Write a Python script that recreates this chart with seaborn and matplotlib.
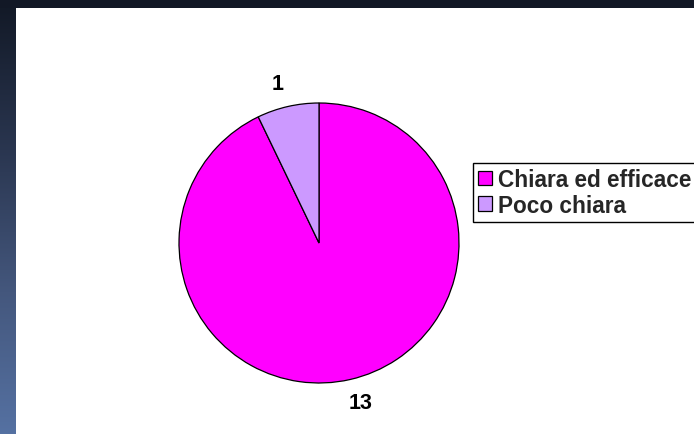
import numpy as np
import matplotlib
matplotlib.use("Agg")
import matplotlib.pyplot as plt
from matplotlib.colors import LinearSegmentedColormap
import seaborn as sns

categories = ["Chiara ed efficace", "Poco chiara"]
counts = [13, 1]
slice_colors = ["#FF00FF", "#CC99FF"]

sns.set_style("white")
plt.rcParams["font.family"] = ["Liberation Sans", "DejaVu Sans"]

W, H = 694, 435
fig = plt.figure(figsize=(W / 100, H / 100), dpi=100)

# slide-style backdrop: dark top bar and a vertical blue gradient strip on the left
bg = fig.add_axes([0, 0, 1, 1])
bg.set_axis_off()
grad = LinearSegmentedColormap.from_list("band", ["#131a28", "#2a3650", "#44577d", "#5571a2"])
bg.imshow(np.linspace(0, 1, 256).reshape(-1, 1), cmap=grad, aspect="auto",
          extent=[0, W, 0, H - 9], origin="upper")
bg.add_patch(plt.Rectangle((0, H - 9), W, 9, color="#121826", lw=0))
bg.add_patch(plt.Rectangle((16, 0), W - 16, H - 9, color="white", lw=0))
bg.set_xlim(0, W)
bg.set_ylim(0, H)

# pie area: center (319, 244) px, radius 140 px
cx, cy, r = 319, 244, 140
ax = fig.add_axes([(cx - r) / W, (H - cy - r) / H, 2 * r / W, 2 * r / H])
wedges, _ = ax.pie(counts, colors=slice_colors, startangle=90, counterclock=False,
                   wedgeprops=dict(edgecolor="black", linewidth=0.9))
ax.set_xlim(-1, 1)
ax.set_ylim(-1, 1)
ax.set_aspect("equal")

# value labels just outside each slice
for w, n in zip(wedges, counts):
    mid = np.deg2rad((w.theta1 + w.theta2) / 2 + 1.7)
    d = 1.18
    ax.text(d * np.cos(mid), d * np.sin(mid), str(n), ha="center", va="center",
            fontsize=15.5, fontweight="bold", color="black")

leg = fig.legend(wedges, categories, loc="upper left", bbox_to_anchor=(473 / W, 1 - 164 / H),
                 frameon=True, fancybox=False, edgecolor="black", framealpha=1,
                 prop=dict(size=16.3, weight="bold"), handlelength=0.62, handleheight=0.62,
                 handletextpad=0.28, borderpad=0.22, labelspacing=0.12, borderaxespad=0)
leg.get_frame().set_linewidth(1.0)

fig.savefig("out.png", dpi=100)
